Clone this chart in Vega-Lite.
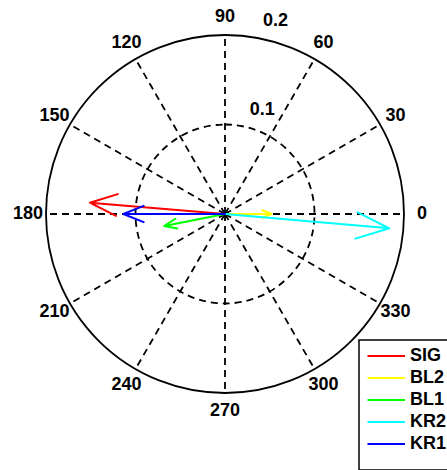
{
  "$schema": "https://vega.github.io/schema/vega-lite/v6.json",
  "width": 358,
  "height": 358,
  "autosize": {"type": "none"},
  "padding": {"left": 46, "top": 35, "right": 43, "bottom": 77},
  "background": "white",
  "config": {
    "view": {"stroke": null},
    "font": "Liberation Sans",
    "legend": {
      "orient": "none",
      "legendX": 313,
      "legendY": 305,
      "strokeColor": "black",
      "fillColor": "white",
      "strokeWidth": 1.5,
      "padding": 7,
      "labelFont": "Liberation Sans",
      "labelFontSize": 18,
      "labelFontWeight": "bold",
      "labelColor": "black",
      "labelOffset": 26,
      "symbolType": "M-1,0H4",
      "symbolSize": 225,
      "symbolStrokeWidth": 2,
      "rowPadding": 4,
      "titleOrient": "bottom",
      "titleFontSize": 10,
      "titlePadding": 0
    }
  },
  "datasets": {
    "spokes": [
      {"a": 0, "x": 0, "y": 0, "x2": 0.2, "y2": 0},
      {"a": 30, "x": 0, "y": 0, "x2": 0.173205, "y2": 0.1},
      {"a": 60, "x": 0, "y": 0, "x2": 0.1, "y2": 0.173205},
      {"a": 90, "x": 0, "y": 0, "x2": 0, "y2": 0.2},
      {"a": 120, "x": 0, "y": 0, "x2": -0.1, "y2": 0.173205},
      {"a": 150, "x": 0, "y": 0, "x2": -0.173205, "y2": 0.1},
      {"a": 180, "x": 0, "y": 0, "x2": -0.2, "y2": 0},
      {"a": 210, "x": 0, "y": 0, "x2": -0.173205, "y2": -0.1},
      {"a": 240, "x": 0, "y": 0, "x2": -0.1, "y2": -0.173205},
      {"a": 270, "x": 0, "y": 0, "x2": 0, "y2": -0.2},
      {"a": 300, "x": 0, "y": 0, "x2": 0.1, "y2": -0.173205},
      {"a": 330, "x": 0, "y": 0, "x2": 0.173205, "y2": -0.1}
    ],
    "anglabels": [
      {"t": "0", "x": 0.22, "y": 0},
      {"t": "30", "x": 0.190526, "y": 0.11},
      {"t": "60", "x": 0.11, "y": 0.190526},
      {"t": "90", "x": 0, "y": 0.22},
      {"t": "120", "x": -0.11, "y": 0.190526},
      {"t": "150", "x": -0.190526, "y": 0.11},
      {"t": "180", "x": -0.22, "y": 0},
      {"t": "210", "x": -0.190526, "y": -0.11},
      {"t": "240", "x": -0.11, "y": -0.190526},
      {"t": "270", "x": 0, "y": -0.22},
      {"t": "300", "x": 0.11, "y": -0.190526},
      {"t": "330", "x": 0.190526, "y": -0.11}
    ],
    "radlabels": [
      {"t": "0.1", "x": 0.0415, "y": 0.1157},
      {"t": "0.2", "x": 0.0564, "y": 0.2152}
    ],
    "arrows": [
      {"s": "SIG", "o": 0, "x": 0, "y": 0},
      {"s": "SIG", "o": 1, "x": -0.151, "y": 0.0126},
      {"s": "SIG", "o": 2, "x": -0.1218, "y": -0.002},
      {"s": "SIG", "o": 3, "x": -0.151, "y": 0.0126},
      {"s": "SIG", "o": 4, "x": -0.1198, "y": 0.0222},
      {"s": "BL2", "o": 0, "x": 0, "y": 0},
      {"s": "BL2", "o": 1, "x": 0.052, "y": 0},
      {"s": "BL2", "o": 2, "x": 0.0416, "y": 0.0042},
      {"s": "BL2", "o": 3, "x": 0.052, "y": 0},
      {"s": "BL2", "o": 4, "x": 0.0416, "y": -0.0042},
      {"s": "BL1", "o": 0, "x": 0, "y": 0},
      {"s": "BL1", "o": 1, "x": -0.068, "y": -0.0134},
      {"s": "BL1", "o": 2, "x": -0.0533, "y": -0.0162},
      {"s": "BL1", "o": 3, "x": -0.068, "y": -0.0134},
      {"s": "BL1", "o": 4, "x": -0.0555, "y": -0.0053},
      {"s": "KR2", "o": 0, "x": 0, "y": 0},
      {"s": "KR2", "o": 1, "x": 0.1836, "y": -0.016},
      {"s": "KR2", "o": 2, "x": 0.1482, "y": 0.0019},
      {"s": "KR2", "o": 3, "x": 0.1836, "y": -0.016},
      {"s": "KR2", "o": 4, "x": 0.1456, "y": -0.0275},
      {"s": "KR1", "o": 0, "x": 0, "y": 0},
      {"s": "KR1", "o": 1, "x": -0.1136, "y": 0},
      {"s": "KR1", "o": 2, "x": -0.0909, "y": -0.0091},
      {"s": "KR1", "o": 3, "x": -0.1136, "y": 0},
      {"s": "KR1", "o": 4, "x": -0.0909, "y": 0.0091}
    ]
  },
  "layer": [
    {
      "data": {"values": [{"r": 0.1}]},
      "mark": {"type": "arc", "theta": 0, "theta2": 6.2832, "filled": false, "stroke": "black", "strokeWidth": 1.8, "strokeDash": [7, 5]},
      "encoding": {
        "radius": {"field": "r", "type": "quantitative", "scale": {"type": "linear", "domain": [0, 0.2], "range": [0, 179], "zero": true}}
      }
    },
    {
      "data": {"name": "spokes"},
      "mark": {"type": "rule", "stroke": "black", "strokeWidth": 1.8, "strokeDash": [7, 5]},
      "encoding": {
        "x": {"field": "x", "type": "quantitative", "scale": {"domain": [-0.2, 0.2], "nice": false, "zero": false}, "axis": null},
        "y": {"field": "y", "type": "quantitative", "scale": {"domain": [-0.2, 0.2], "nice": false, "zero": false}, "axis": null},
        "x2": {"field": "x2"},
        "y2": {"field": "y2"}
      }
    },
    {
      "data": {"values": [{"r": 0.2}]},
      "mark": {"type": "arc", "theta": 0, "theta2": 6.2832, "filled": false, "stroke": "black", "strokeWidth": 1.8},
      "encoding": {
        "radius": {"field": "r", "type": "quantitative", "scale": {"type": "linear", "domain": [0, 0.2], "range": [0, 179], "zero": true}}
      }
    },
    {
      "data": {"name": "anglabels"},
      "mark": {"type": "text", "font": "Liberation Sans", "fontSize": 18, "fontWeight": "bold", "align": "center", "baseline": "middle", "color": "black"},
      "encoding": {
        "x": {"field": "x", "type": "quantitative"},
        "y": {"field": "y", "type": "quantitative"},
        "text": {"field": "t"}
      }
    },
    {
      "data": {"name": "radlabels"},
      "mark": {"type": "text", "font": "Liberation Sans", "fontSize": 18, "fontWeight": "bold", "align": "center", "baseline": "middle", "color": "black"},
      "encoding": {
        "x": {"field": "x", "type": "quantitative"},
        "y": {"field": "y", "type": "quantitative"},
        "text": {"field": "t"}
      }
    },
    {
      "data": {"name": "arrows"},
      "mark": {"type": "line", "strokeWidth": 2, "strokeJoin": "round", "strokeCap": "round"},
      "encoding": {
        "x": {"field": "x", "type": "quantitative"},
        "y": {"field": "y", "type": "quantitative"},
        "order": {"field": "o", "type": "quantitative"},
        "color": {
          "field": "s",
          "type": "nominal",
          "sort": ["SIG", "BL2", "BL1", "KR2", "KR1"],
          "scale": {"domain": ["SIG", "BL2", "BL1", "KR2", "KR1"], "range": ["#ff0000", "#ffff00", "#00ff00", "#00ffff", "#0000ff"]},
          "legend": {"title": " "}
        }
      }
    }
  ]
}
